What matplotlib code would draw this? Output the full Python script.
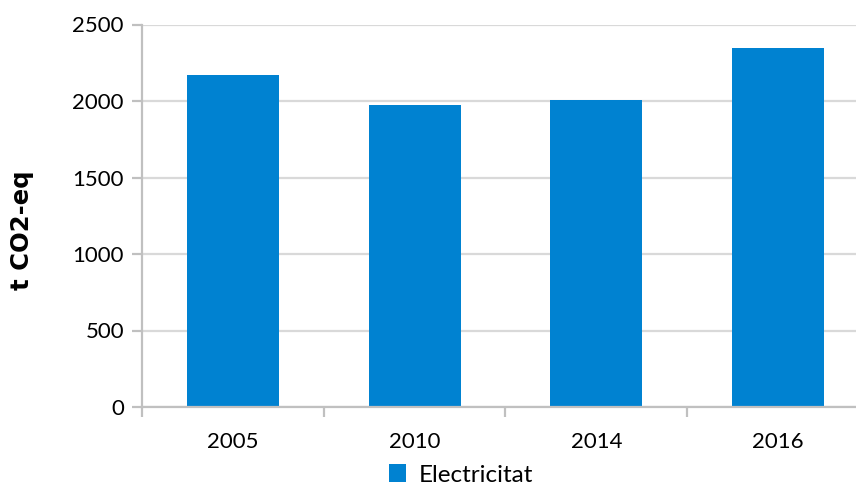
import matplotlib
matplotlib.use("Agg")
import matplotlib.pyplot as plt
from matplotlib.patches import Patch

years = ["2005", "2010", "2014", "2016"]
electricitat = [2170, 1975, 2005, 2345]
y_ticks = [0, 500, 1000, 1500, 2000, 2500]

plt.rcParams["font.family"] = ["Lato", "DejaVu Sans"]

W, H = 856, 487
fig = plt.figure(figsize=(W / 100, H / 100), dpi=100)
# axes spans past the right edge so the last category is partly cut off
left, right = 142 / W, 869 / W
bottom, top = 1 - 407 / H, 1 - 24.5 / H
ax = fig.add_axes([left, bottom, right - left, top - bottom])

bar_color = "#0082D1"
x = list(range(len(years)))
ax.bar(x, electricitat, width=0.505, color=bar_color, zorder=3)

ax.set_xlim(-0.5, len(years) - 0.5)
ax.set_ylim(0, 2500)
ax.set_yticks(y_ticks)
ax.set_yticklabels([str(v) for v in y_ticks], fontsize=16)
ax.yaxis.grid(True, color="#d9d9d9", linewidth=1.6, zorder=0)

ax.set_xticks(x)
ax.set_xticklabels(years, fontsize=16)
ax.set_xticks([i + 0.5 for i in range(-1, len(years))], minor=True)
ax.tick_params(axis="x", which="major", length=0, pad=18)
ax.tick_params(axis="x", which="minor", length=7, width=1.6, color="#c0c0c0")
ax.tick_params(axis="y", length=7, width=1.6, color="#c0c0c0", pad=6)

for side in ["top", "right"]:
    ax.spines[side].set_visible(False)
for side in ["left", "bottom"]:
    ax.spines[side].set_color("#c0c0c0")
    ax.spines[side].set_linewidth(1.6)
ax.spines["bottom"].set_zorder(4)

ax.set_ylabel("t CO2-eq", fontsize=17.5, fontweight="bold", family="DejaVu Sans")
ax.yaxis.set_label_coords((34 - 142) / (W * (right - left)), 0.463)

handle = Patch(facecolor=bar_color, edgecolor="none")
fig.legend([handle], ["Electricitat"], loc="center", bbox_to_anchor=(461 / W, 1 - 475 / H),
           frameon=False, fontsize=17.5, handlelength=0.7, handleheight=0.7,
           handletextpad=0.5)

fig.savefig("out.png", dpi=100)
